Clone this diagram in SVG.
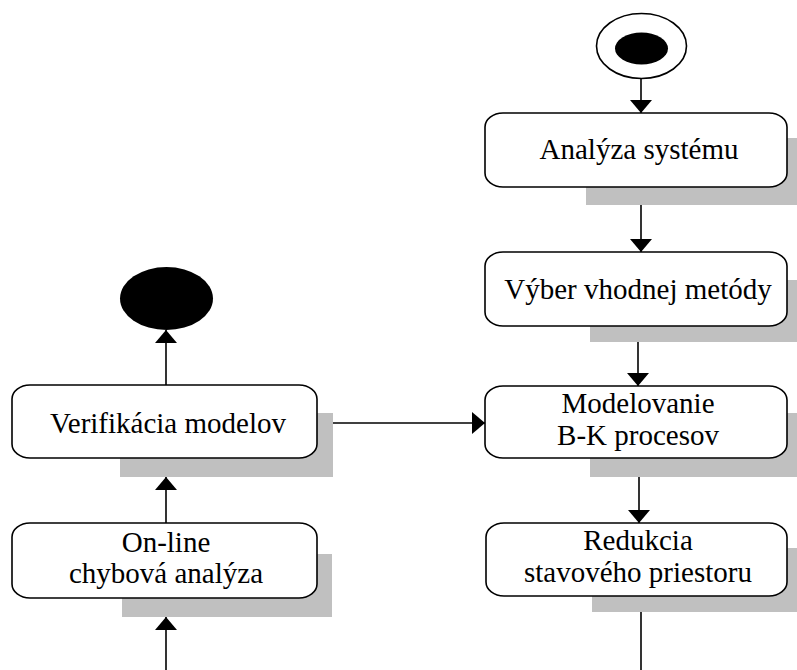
<svg xmlns="http://www.w3.org/2000/svg" width="797" height="670" viewBox="0 0 797 670">
<style>
.box{fill:#fff;stroke:#000;stroke-width:1.6}
.sh{fill:#c0c0c0}
.t{font-family:"Liberation Serif","Times New Roman",serif;font-size:29px;fill:#000;text-anchor:middle}
.c{stroke:#000;stroke-width:1.6;fill:none}
</style>
<defs>
<marker id="ah" viewBox="0 0 13 22" refX="13" refY="11" markerWidth="13" markerHeight="22" orient="auto" markerUnits="userSpaceOnUse">
<path d="M0,0 L13,11 L0,22 Z" fill="#000"/>
</marker>
</defs>
<rect width="797" height="670" fill="#fff"/>
<g id="start">
<ellipse cx="641.5" cy="46" rx="45" ry="32.5" fill="#fff" stroke="#000" stroke-width="1.6"/>
<ellipse cx="641.5" cy="48.5" rx="26.5" ry="16" fill="#000"/>
</g>
<g id="analyza">
<rect class="sh" x="586" y="138" width="220" height="67"/>
<rect class="box" x="485" y="113" width="302" height="74" rx="18" ry="14"/>
<text class="t" x="639" y="159">Analýza systému</text>
</g>
<g id="vyber">
<rect class="sh" x="590" y="280" width="220" height="62"/>
<rect class="box" x="485" y="252" width="302" height="74" rx="18" ry="14"/>
<text class="t" x="638" y="299">Výber vhodnej metódy</text>
</g>
<g id="modelovanie">
<rect class="sh" x="590" y="413" width="220" height="64"/>
<rect class="box" x="485" y="386" width="302" height="72" rx="18" ry="14"/>
<text class="t" x="638" y="413">Modelovanie</text>
<text class="t" x="638" y="445">B-K procesov</text>
</g>
<g id="redukcia">
<rect class="sh" x="592" y="548" width="220" height="64"/>
<rect class="box" x="486" y="523" width="301" height="73" rx="18" ry="14"/>
<text class="t" x="638" y="550">Redukcia</text>
<text class="t" x="638" y="582">stavového priestoru</text>
</g>
<g id="end">
<ellipse cx="166.5" cy="298.5" rx="46.5" ry="31.5" fill="#000"/>
</g>
<g id="verifikacia">
<rect class="sh" x="120" y="413" width="213" height="64"/>
<rect class="box" x="12" y="385" width="305" height="73" rx="18" ry="14"/>
<text class="t" x="168" y="433">Verifikácia modelov</text>
</g>
<g id="online">
<rect class="sh" x="122" y="554" width="210" height="63"/>
<rect class="box" x="12" y="523" width="305" height="75" rx="18" ry="14"/>
<text class="t" x="166" y="552">On-line</text>
<text class="t" x="166" y="583">chybová analýza</text>
</g>
<g id="connectors">
<line class="c" x1="641" y1="79" x2="641" y2="113" marker-end="url(#ah)"/>
<line class="c" x1="641" y1="205" x2="641" y2="252" marker-end="url(#ah)"/>
<line class="c" x1="638" y1="342" x2="638" y2="386" marker-end="url(#ah)"/>
<line class="c" x1="639" y1="477" x2="639" y2="523" marker-end="url(#ah)"/>
<line class="c" x1="641" y1="612" x2="641" y2="670"/>
<line class="c" x1="166" y1="670" x2="166" y2="617" marker-end="url(#ah)"/>
<line class="c" x1="166" y1="523" x2="166" y2="477" marker-end="url(#ah)"/>
<line class="c" x1="166" y1="385" x2="166" y2="330" marker-end="url(#ah)"/>
<line class="c" x1="333" y1="423" x2="485" y2="423" marker-end="url(#ah)"/>
</g>
</svg>
